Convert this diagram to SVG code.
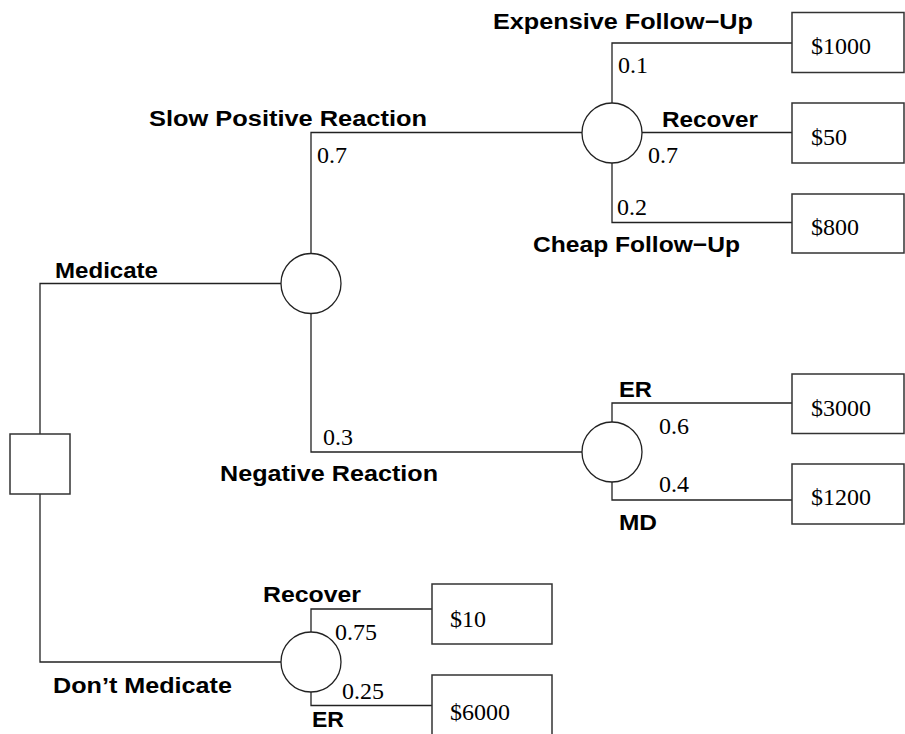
<svg xmlns="http://www.w3.org/2000/svg" width="905" height="734" viewBox="0 0 905 734">
<style>
.ln{fill:none;stroke:#222;stroke-width:1.3}
.bx{fill:#fff;stroke:#333;stroke-width:1.5}
.ch{fill:#fff;stroke:#222;stroke-width:1.3}
.lb{font-family:"Liberation Sans",Arial,sans-serif;font-weight:bold;font-size:22px;fill:#000}
.nm{font-family:"Liberation Serif","Times New Roman",serif;font-size:24px;fill:#000}
</style>
<rect width="905" height="734" fill="#fff"/>
<g id="connectors">
<polyline class="ln" points="40,434 40,283.5 281,283.5"/>
<polyline class="ln" points="40,494 40,662 281,662"/>
<polyline class="ln" points="311,253 311,132.5 582,132.5"/>
<polyline class="ln" points="311,313 311,452 582,452"/>
<polyline class="ln" points="612,103 612,43 792,43"/>
<line class="ln" x1="642" y1="132.5" x2="792" y2="132.5"/>
<polyline class="ln" points="612,163 612,222.5 792,222.5"/>
<polyline class="ln" points="612,422 612,403 792,403"/>
<polyline class="ln" points="612,482 612,500 792,500"/>
<polyline class="ln" points="311,632 311,609 432,609"/>
<polyline class="ln" points="311,692 311,705.5 432,705.5"/>
</g>
<g id="decision"><rect class="bx" x="10" y="434" width="60" height="60"/></g>
<g id="chance-medicate"><circle class="ch" cx="311" cy="283.5" r="30"/></g>
<g id="chance-slow"><circle class="ch" cx="612" cy="133" r="30"/></g>
<g id="chance-negative"><circle class="ch" cx="612" cy="452" r="30"/></g>
<g id="chance-dont"><circle class="ch" cx="311" cy="662" r="30"/></g>
<g id="out-1000"><rect class="bx" x="792" y="12.5" width="112" height="60"/><text class="nm" x="811" y="54">$1000</text></g>
<g id="out-50"><rect class="bx" x="792" y="103" width="112" height="60"/><text class="nm" x="811" y="145">$50</text></g>
<g id="out-800"><rect class="bx" x="792" y="194" width="112" height="59"/><text class="nm" x="811" y="235">$800</text></g>
<g id="out-3000"><rect class="bx" x="792" y="374" width="112" height="59.5"/><text class="nm" x="811" y="415.5">$3000</text></g>
<g id="out-1200"><rect class="bx" x="792" y="464" width="112" height="60"/><text class="nm" x="811" y="505">$1200</text></g>
<g id="out-10"><rect class="bx" x="432" y="584" width="120" height="60"/><text class="nm" x="450" y="626.5">$10</text></g>
<g id="out-6000"><rect class="bx" x="432" y="675" width="120" height="60"/><text class="nm" x="450" y="720">$6000</text></g>
<g id="labels">
<text class="lb" x="493" y="29" textLength="260" lengthAdjust="spacingAndGlyphs">Expensive Follow−Up</text>
<text class="lb" x="149" y="126" textLength="278" lengthAdjust="spacingAndGlyphs">Slow Positive Reaction</text>
<text class="lb" x="662" y="127" textLength="96" lengthAdjust="spacingAndGlyphs">Recover</text>
<text class="lb" x="533" y="252" textLength="207" lengthAdjust="spacingAndGlyphs">Cheap Follow−Up</text>
<text class="lb" x="55" y="278" textLength="103" lengthAdjust="spacingAndGlyphs">Medicate</text>
<text class="lb" x="220" y="481" textLength="218" lengthAdjust="spacingAndGlyphs">Negative Reaction</text>
<text class="lb" x="619" y="397" textLength="33" lengthAdjust="spacingAndGlyphs">ER</text>
<text class="lb" x="619" y="530" textLength="38" lengthAdjust="spacingAndGlyphs">MD</text>
<text class="lb" x="263" y="602" textLength="98" lengthAdjust="spacingAndGlyphs">Recover</text>
<text class="lb" x="53" y="693" textLength="179" lengthAdjust="spacingAndGlyphs">Don’t Medicate</text>
<text class="lb" x="312" y="727" textLength="32" lengthAdjust="spacingAndGlyphs">ER</text>
<text class="nm" x="317" y="163">0.7</text>
<text class="nm" x="323" y="445">0.3</text>
<text class="nm" x="618" y="73">0.1</text>
<text class="nm" x="648" y="163">0.7</text>
<text class="nm" x="617" y="215">0.2</text>
<text class="nm" x="659" y="434">0.6</text>
<text class="nm" x="659" y="492">0.4</text>
<text class="nm" x="335" y="640">0.75</text>
<text class="nm" x="342" y="699">0.25</text>
</g>
</svg>
